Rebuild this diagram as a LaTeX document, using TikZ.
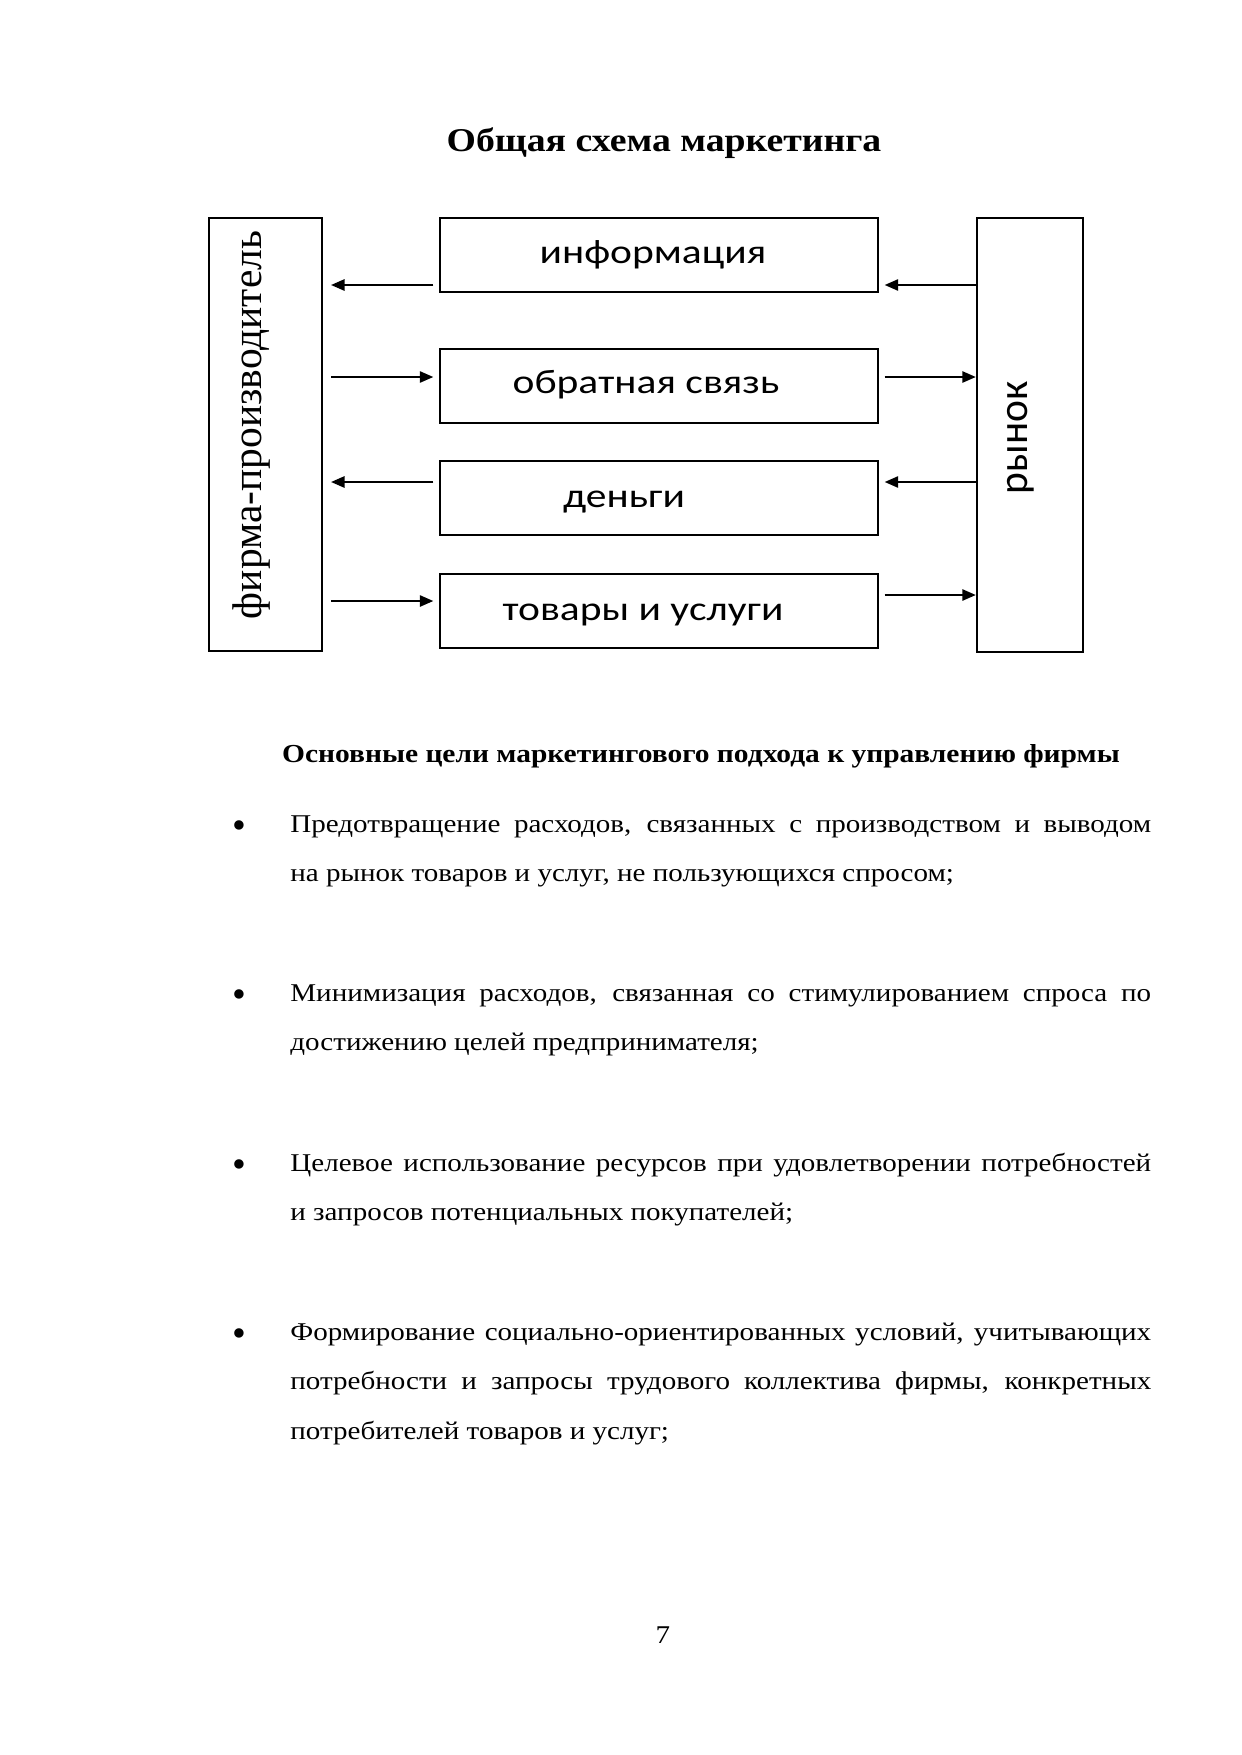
\documentclass[tikz,border=0pt]{standalone}
\usepackage{fontspec}
\setmainfont{Liberation Serif}
\newfontfamily\boxfont{Carlito}
\newfontfamily\serifv{Liberation Serif}
\usetikzlibrary{arrows.meta}
\newcommand\pxu{0.016933cm}
\newcommand\squishbox[1]{\scalebox{1}[0.82]{#1}}
\newcommand\squishtext[1]{\scalebox{1}[0.88]{#1}}
\newcommand\bodypar[1]{\squishtext{\parbox[t]{14.58cm}{\fontsize{14}{27.3}\selectfont #1}}}
\begin{document}
\begin{tikzpicture}[x=0.016933cm,y=-0.016933cm,
  frame/.style={draw, line width=0.8pt, inner sep=0pt},
  boxtext/.style={font=\boxfont\fontsize{20}{24}\selectfont, inner sep=0pt, anchor=base},
  arr/.style={line width=0.75pt, -{Triangle[length=6.5pt,width=5.5pt]}},
  body/.style={inner sep=0pt, anchor=base west, align=justify},
  bul/.style={font=\fontsize{19}{20}\selectfont, inner sep=0pt, anchor=center}]
\path[use as bounding box, fill=white] (0,0) rectangle (1241,1755);

\node[font=\bfseries\fontsize{18.2}{22}\selectfont, anchor=base, inner sep=0pt] (title) at (664,151) {\squishtext{Общая схема маркетинга}};

\node[frame, minimum width={113*\pxu}, minimum height={433*\pxu}] (firm) at (265.5,434.5) {};
\node[frame, minimum width={106*\pxu}, minimum height={434*\pxu}, line width=1.2pt] (market) at (1030,435) {};
\node[frame, minimum width={438*\pxu}, minimum height={74*\pxu}] (info) at (659,255) {};
\node[frame, minimum width={438*\pxu}, minimum height={74*\pxu}] (fb) at (659,386) {};
\node[frame, minimum width={438*\pxu}, minimum height={74*\pxu}] (money) at (659,498) {};
\node[frame, minimum width={438*\pxu}, minimum height={74*\pxu}] (goods) at (659,611) {};

\node[boxtext] (tinfo) at (653,263) {\squishbox{информация}};
\node[boxtext] (tfb) at (646,393) {\squishbox{обратная связь}};
\node[boxtext] (tmoney) at (624,507) {\squishbox{деньги}};
\node[boxtext] (tgoods) at (643,620) {\squishbox{товары и услуги}};
\node[font=\serifv\fontsize{20}{24}\selectfont, inner sep=0pt, rotate=90] (tfirm) at (252,425) {фирма-производитель};
\node[font=\boxfont\fontsize{20}{24}\selectfont, inner sep=0pt, rotate=90] (tmarket) at (1021,438) {рынок};

\coordinate (r1) at (0,285);
\coordinate (r2) at (0,377);
\coordinate (r3) at (0,482);
\coordinate (r4) at (0,601);
\coordinate (r4b) at (0,595);

\draw[arr] ([xshift=-0.1cm]info.west |- r1) -- ([xshift=0.14cm]firm.east |- r1);
\draw[arr] (market.west |- r1) -- ([xshift=0.1cm]info.east |- r1);
\draw[arr] ([xshift=0.14cm]firm.east |- r2) -- ([xshift=-0.1cm]fb.west |- r2);
\draw[arr] ([xshift=0.1cm]fb.east |- r2) -- (market.west |- r2);
\draw[arr] ([xshift=-0.1cm]money.west |- r3) -- ([xshift=0.14cm]firm.east |- r3);
\draw[arr] (market.west |- r3) -- ([xshift=0.1cm]money.east |- r3);
\draw[arr] ([xshift=0.14cm]firm.east |- r4) -- ([xshift=-0.1cm]goods.west |- r4);
\draw[arr] ([xshift=0.1cm]goods.east |- r4b) -- (market.west |- r4b);

\node[font=\bfseries\fontsize{14.2}{20}\selectfont, anchor=base, inner sep=0pt] (head) at (701,762) {\squishtext{Основные цели маркетингового подхода к управлению фирмы}};

\node[bul] (b1) at (239,830) {•};
\node[body] (p1) at (290,832) {\bodypar{Предотвращение расходов, связанных с производством и выводом\linebreak на рынок товаров и услуг, не пользующихся спросом;}};
\node[bul] (b2) at (239,999) {•};
\node[body] (p2) at (290,1001) {\bodypar{Минимизация расходов, связанная со стимулированием спроса по достижению целей предпринимателя;}};
\node[bul] (b3) at (239,1169) {•};
\node[body] (p3) at (290,1171) {\bodypar{Целевое использование ресурсов при удовлетворении потребностей\linebreak и запросов потенциальных покупателей;}};
\node[bul] (b4) at (239,1338) {•};
\node[body] (p4) at (290,1340) {\bodypar{Формирование социально-ориентированных условий, учитывающих потребности и запросы трудового коллектива фирмы, конкретных потребителей товаров и услуг;}};

\node[font=\fontsize{14}{16}\selectfont, anchor=base, inner sep=0pt] (pnum) at (663,1643) {\squishtext{7}};
\end{tikzpicture}
\end{document}
